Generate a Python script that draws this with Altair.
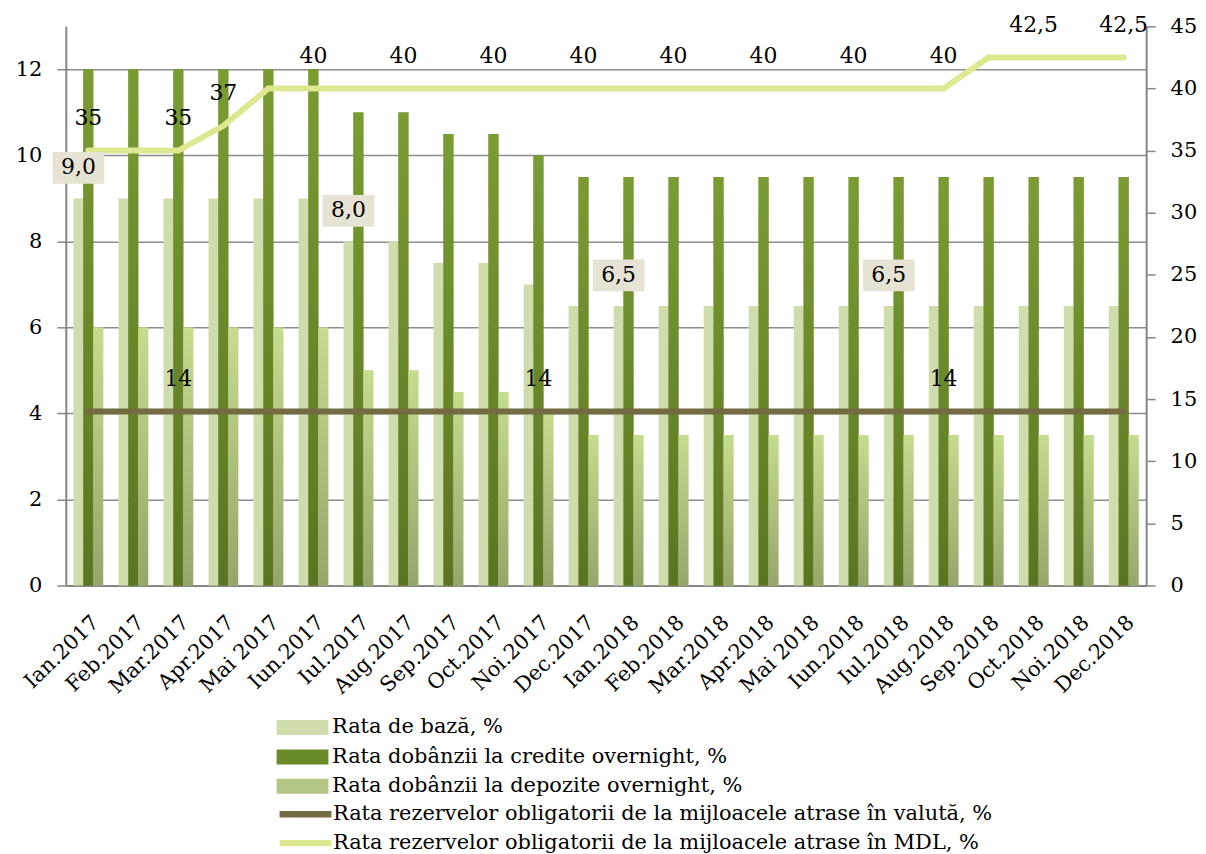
import altair as alt
import pandas as pd

months = ["Ian.2017", "Feb.2017", "Mar.2017", "Apr.2017", "Mai 2017", "Iun.2017",
          "Iul.2017", "Aug.2017", "Sep.2017", "Oct.2017", "Noi.2017", "Dec.2017",
          "Ian.2018", "Feb.2018", "Mar.2018", "Apr.2018", "Mai 2018", "Iun.2018",
          "Iul.2018", "Aug.2018", "Sep.2018", "Oct.2018", "Noi.2018", "Dec.2018"]

rata_baza = [9.0, 9.0, 9.0, 9.0, 9.0, 9.0, 8.0, 8.0, 7.5, 7.5, 7.0, 6.5,
             6.5, 6.5, 6.5, 6.5, 6.5, 6.5, 6.5, 6.5, 6.5, 6.5, 6.5, 6.5]
rata_credite = [12, 12, 12, 12, 12, 12, 11, 11, 10.5, 10.5, 10, 9.5,
                9.5, 9.5, 9.5, 9.5, 9.5, 9.5, 9.5, 9.5, 9.5, 9.5, 9.5, 9.5]
rata_depozite = [6, 6, 6, 6, 6, 6, 5, 5, 4.5, 4.5, 4.0, 3.5,
                 3.5, 3.5, 3.5, 3.5, 3.5, 3.5, 3.5, 3.5, 3.5, 3.5, 3.5, 3.5]
rez_valuta = [14, 14, 14, 14, 14, 14, 14, 14, 14, 14, 14, 14,
              14, 14, 14, 14, 14, 14, 14, 14, 14, 14, 14, 14]
rez_mdl = [35, 35, 35, 37, 40, 40, 40, 40, 40, 40, 40, 40,
           40, 40, 40, 40, 40, 40, 40, 40, 42.5, 42.5, 42.5, 42.5]

lbl_baza = ["9,0", "", "", "", "", "", "8,0", "", "", "", "", "",
            "6,5", "", "", "", "", "", "6,5", "", "", "", "", ""]
lbl_valuta = ["", "", "14", "", "", "", "", "", "", "", "14", "",
              "", "", "", "", "", "", "", "14", "", "", "", ""]
lbl_mdl = ["35", "", "35", "37", "", "40", "", "40", "", "40", "", "40",
           "", "40", "", "40", "", "40", "", "40", "", "42,5", "", "42,5"]

s_baza = "Rata de bază, %"
s_cred = "Rata dobânzii la credite overnight, %"
s_dep = "Rata dobânzii la depozite overnight,  %"
s_val = "Rata rezervelor obligatorii de la mijloacele atrase în valută, %"
s_mdl = "Rata rezervelor obligatorii de la mijloacele atrase în MDL, %"
bar_series = [s_baza, s_cred, s_dep]
line_series = [s_val, s_mdl]

bar_rows = []
for i, m in enumerate(months):
    bar_rows.append({"month": m, "series": s_baza, "value": rata_baza[i], "label": lbl_baza[i]})
    bar_rows.append({"month": m, "series": s_cred, "value": rata_credite[i], "label": ""})
    bar_rows.append({"month": m, "series": s_dep, "value": rata_depozite[i], "label": ""})
bar_df = pd.DataFrame(bar_rows)

line_rows = []
for i, m in enumerate(months):
    line_rows.append({"month": m, "series": s_val, "value": rez_valuta[i], "label": lbl_valuta[i]})
    line_rows.append({"month": m, "series": s_mdl, "value": rez_mdl[i], "label": lbl_mdl[i]})
line_df = pd.DataFrame(line_rows)

SERIF = "DejaVu Serif"
LEG_FONT = "DejaVu Serif"

x_enc = alt.X("month:N", sort=months,
              scale=alt.Scale(paddingInner=0.34, paddingOuter=0.17),
              axis=alt.Axis(title=None, labelAngle=-44, labelFont=SERIF, labelFontSize=21,
                            labelColor="black", ticks=False, labelPadding=26,
                            domainColor="#868686", domainWidth=2, grid=False))
xo_enc = alt.XOffset("series:N", sort=bar_series,
                     scale=alt.Scale(domain=bar_series, paddingInner=0, paddingOuter=0))
y_left = alt.Y("value:Q", scale=alt.Scale(domain=[0, 13], nice=False),
               axis=alt.Axis(title=None, values=[0, 2, 4, 6, 8, 10, 12], grid=True,
                             gridColor="#8c8c8c", gridWidth=1.5, domainColor="#868686",
                             domainWidth=2, tickColor="#868686", tickSize=9, tickWidth=1.5,
                             labelFont=SERIF, labelFontSize=21, labelColor="black",
                             labelPadding=15))
y_left_noaxis = alt.Y("value:Q", scale=alt.Scale(domain=[0, 13], nice=False), axis=None)

bars = alt.Chart(bar_df).mark_bar().encode(
    x=x_enc, xOffset=xo_enc, y=y_left,
    fill=alt.Fill("series:N", sort=bar_series,
                  scale=alt.Scale(domain=bar_series, range=["#cfdcab", "#6b8b2b", "#b3c685"]),
                  legend=alt.Legend(title=None, orient="none", legendX=227, legendY=693,
                                    symbolType="M-2.6,-0.75H2.6V0.75H-2.6Z", symbolSize=400,
                                    symbolStrokeWidth=0, symbolOpacity=1,
                                    labelFont=LEG_FONT, labelFontSize=21,
                                    labelColor="black", labelLimit=1000, labelOffset=19,
                                    rowPadding=7.5, padding=0)),
)

grad_cred = alt.LinearGradient(gradient="linear", x1=0, x2=0, y1=0, y2=1,
                               stops=[alt.GradientStop(color="#7a9c33", offset=0),
                                      alt.GradientStop(color="#5a7521", offset=1)])
grad_dep = alt.LinearGradient(gradient="linear", x1=0, x2=0, y1=0, y2=1,
                              stops=[alt.GradientStop(color="#c6dc8e", offset=0),
                                     alt.GradientStop(color="#95a66b", offset=1)])

bars_cred = alt.Chart(bar_df).transform_filter(
    alt.datum.series == s_cred).mark_bar(fill=grad_cred).encode(x=x_enc, xOffset=xo_enc, y=y_left)
bars_dep = alt.Chart(bar_df).transform_filter(
    alt.datum.series == s_dep).mark_bar(fill=grad_dep).encode(x=x_enc, xOffset=xo_enc, y=y_left)

box_labels = alt.Chart(bar_df).transform_filter(alt.datum.label != "").mark_point(
    shape="M-2.6,-4.66H2.6V-1.46H-2.6Z", size=400, filled=True, fill="#e6e3d4",
    opacity=1, strokeWidth=0).encode(x=x_enc, xOffset=xo_enc, y=y_left_noaxis)
box_text = alt.Chart(bar_df).transform_filter(alt.datum.label != "").mark_text(
    font=SERIF, fontSize=22, color="black", dy=-31, baseline="middle").encode(
    x=x_enc, xOffset=xo_enc, y=y_left_noaxis, text="label:N")

y_right = alt.Y("value:Q", scale=alt.Scale(domain=[0, 45], nice=False),
                axis=alt.Axis(title=None, orient="right", values=[0, 5, 10, 15, 20, 25, 30, 35, 40, 45],
                              grid=False, domainColor="#868686", domainWidth=2,
                              tickColor="#868686", tickSize=9, tickWidth=1.5,
                              labelFont=SERIF, labelFontSize=21, labelColor="black",
                              labelPadding=15))

lines = alt.Chart(line_df).mark_line(strokeWidth=6, strokeCap="round").encode(
    x=x_enc, y=y_right,
    stroke=alt.Stroke("series:N", sort=line_series,
                      scale=alt.Scale(domain=line_series, range=["#756b43", "#dde891"]),
                      legend=alt.Legend(title=None, orient="none", legendX=227, legendY=777,
                                        symbolType="M-2.6,0H2.6", symbolSize=400,
                                        symbolStrokeWidth=6.5, symbolOpacity=1,
                                        labelFont=LEG_FONT, labelFontSize=21,
                                        labelColor="black", labelLimit=1000, labelOffset=14,
                                        rowPadding=2, padding=0)),
    detail="series:N",
)
line_text = alt.Chart(line_df).transform_filter(alt.datum.label != "").mark_text(
    font=SERIF, fontSize=22, color="black", dy=-33, baseline="middle").encode(
    x=x_enc, y=y_right, text="label:N")

left = alt.layer(bars, bars_cred, bars_dep)
right = alt.layer(lines, line_text)
chart = alt.layer(left, right, box_labels, box_text).resolve_scale(
    y="independent", fill="independent", stroke="independent"
).properties(
    width=1084, height=561,
    autosize=alt.AutoSizeParams(type="none"),
    padding={"left": 58, "top": 17, "right": 52, "bottom": 268},
).configure_view(stroke=None)

chart.save("out.html", embed_options={"renderer": "svg", "actions": False})
